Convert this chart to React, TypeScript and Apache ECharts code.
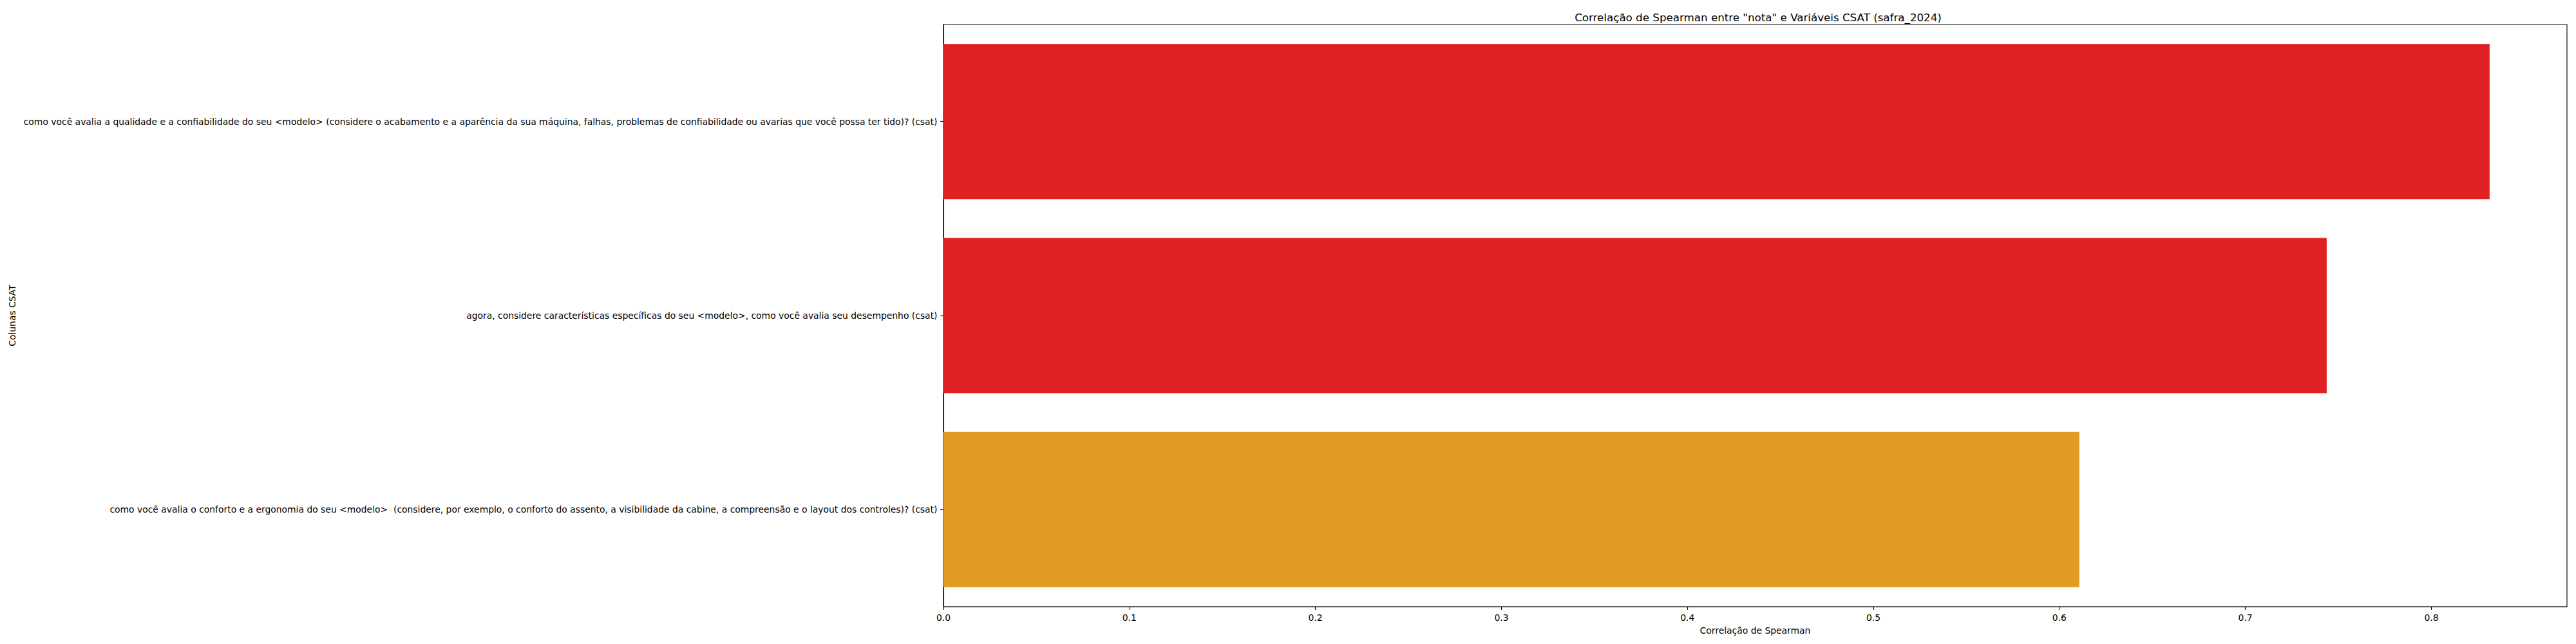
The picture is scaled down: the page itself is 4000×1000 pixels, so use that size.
import React, { useEffect, useRef } from "react";
import * as echarts from "echarts";

const categories = [
  "como você avalia a qualidade e a confiabilidade do seu <modelo> (considere o acabamento e a aparência da sua máquina, falhas, problemas de confiabilidade ou avarias que você possa ter tido)? (csat)",
  "agora, considere características específicas do seu <modelo>, como você avalia seu desempenho (csat)",
  "como você avalia o conforto e a ergonomia do seu <modelo>  (considere, por exemplo, o conforto do assento, a visibilidade da cabine, a compreensão e o layout dos controles)? (csat)",
];
const values = [0.8313, 0.7437, 0.6107];
const barColors = ["#df2123", "#df2123", "#e09c22"];
const xTicks = [0, 0.1, 0.2, 0.3, 0.4, 0.5, 0.6, 0.7, 0.8];
const xMax = 0.8729;

const FONT = "DejaVu Sans";

export default function App() {
  const ref = useRef<HTMLDivElement>(null);
  useEffect(() => {
    if (!ref.current) return;
    const chart = echarts.init(ref.current, null, { renderer: "svg" });
    chart.setOption({
      animation: false,
      backgroundColor: "#ffffff",
      textStyle: { fontFamily: FONT, color: "#000" },
      title: {
        text: 'Correlação de Spearman entre "nota" e Variáveis CSAT (safra_2024)',
        left: 2725,
        textAlign: "center",
        top: 13,
        textStyle: { fontFamily: FONT, fontSize: 16.7, fontWeight: "normal", color: "#000" },
      },
      grid: {
        left: 1465,
        right: 14,
        top: 38,
        bottom: 58,
        show: true,
        borderColor: "#000",
        borderWidth: 1.1,
        backgroundColor: "transparent",
      },
      xAxis: {
        type: "value",
        min: 0,
        max: xMax,
        interval: 0.1,
        name: "Correlação de Spearman",
        nameLocation: "middle",
        nameGap: 30,
        nameTextStyle: { fontFamily: FONT, fontSize: 13.9, color: "#000", verticalAlign: "top" },
        axisLine: { show: true, lineStyle: { color: "#000", width: 1.1 } },
        axisTick: {
          show: true,
          length: 4.9,
          lineStyle: { color: "#000", width: 1.1 },
          customValues: xTicks,
        },
        axisLabel: {
          margin: 9.5,
          fontFamily: FONT,
          fontSize: 13.9,
          color: "#000",
          customValues: xTicks,
          formatter: (v: number) => v.toFixed(1),
        },
        splitLine: { show: false },
      },
      yAxis: {
        type: "category",
        data: categories,
        inverse: true,
        name: "Colunas CSAT",
        nameLocation: "middle",
        nameGap: 1436,
        nameRotate: 90,
        nameTextStyle: { fontFamily: FONT, fontSize: 13.9, color: "#000" },
        axisLine: { show: true, lineStyle: { color: "#000", width: 1.1 } },
        axisTick: { show: true, alignWithLabel: true, length: 4.9, lineStyle: { color: "#000", width: 1.1 } },
        axisLabel: { margin: 9.5, fontFamily: FONT, fontSize: 13.9, color: "#000" },
        splitLine: { show: false },
      },
      series: [
        {
          type: "bar",
          barCategoryGap: "20%",
          data: values.map((v, i) => ({ value: v, itemStyle: { color: barColors[i] } })),
        },
      ],
    });
    return () => chart.dispose();
  }, []);
  return (
    <div
      ref={ref}
      style={{ position: "fixed", left: 0, top: 0, width: 4000, height: 1000 }}
    />
  );
}
